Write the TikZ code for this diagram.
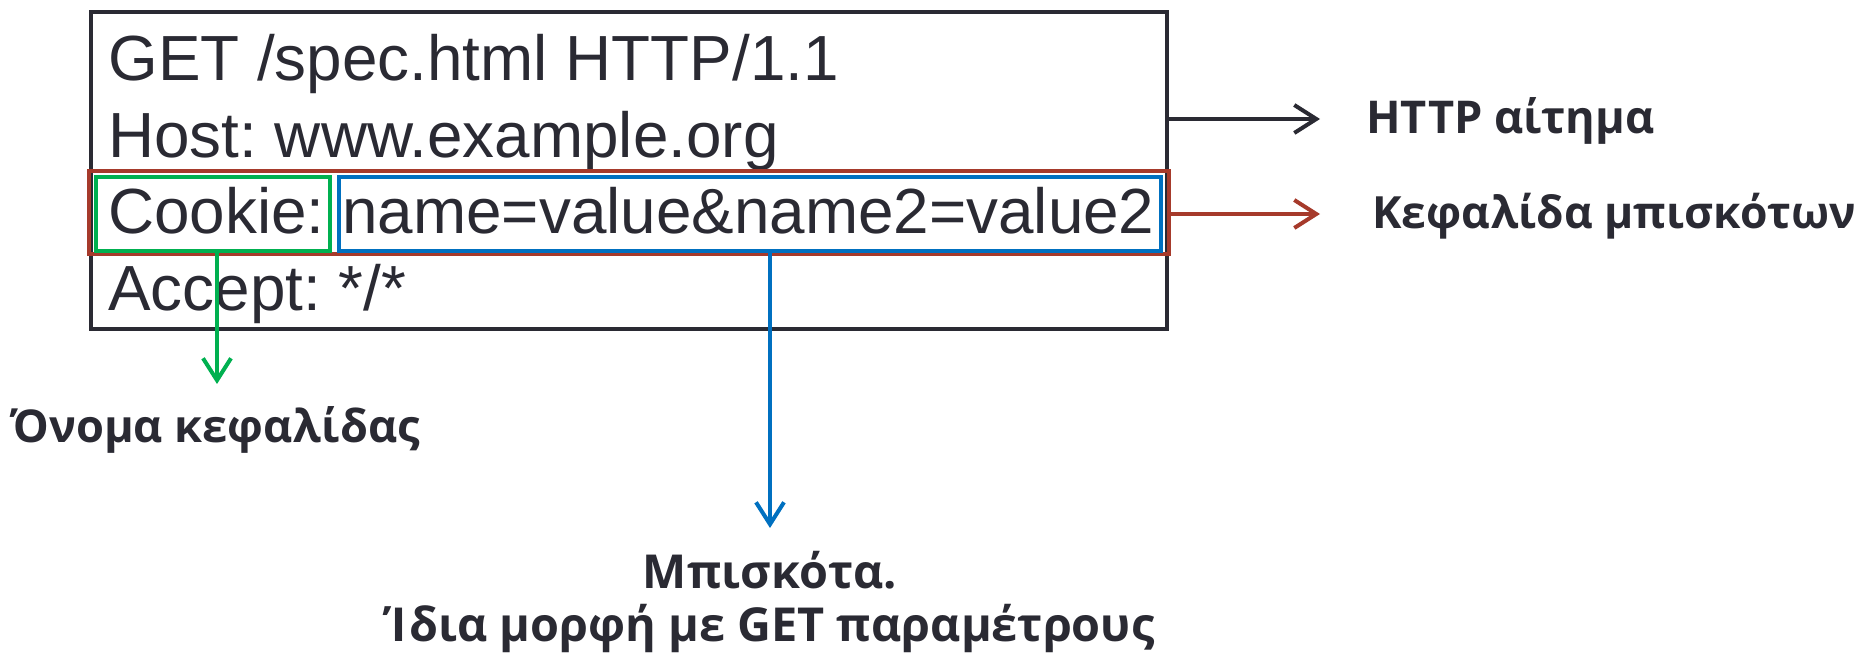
\documentclass[tikz,border=0pt]{standalone}
\usepackage{fontspec}
\setmainfont{Liberation Sans}
\newfontfamily\lblfont{Open Sans}
\usetikzlibrary{arrows.meta,fit}
\definecolor{ink}{HTML}{2A2A33}
\definecolor{cred}{HTML}{A63A2B}
\definecolor{cgreen}{HTML}{00B050}
\definecolor{cblue}{HTML}{0070C0}
\frenchspacing
\begin{document}
\begin{tikzpicture}[x=0.5pt,y=-0.5pt,
  reqtext/.style={anchor=base west, inner sep=0, text=ink, font=\fontsize{31.9}{38}\selectfont},
  lbl/.style={inner sep=0, text=ink, font=\lblfont\bfseries\fontsize{22.6}{27}\selectfont},
  lblbig/.style={inner sep=0, text=ink, font=\lblfont\bfseries\fontsize{23.4}{28}\selectfont},
  frame/.style={draw=#1, inner sep=0, line width=2pt},
  arr/.style={draw=#1, line width=2pt, -{Straight Barb[length=11pt,width=14pt,line width=2pt]}}
]
\useasboundingbox (0,0) rectangle (1862,656);
% request text
\node[reqtext] (l1) at (108,81)  {GET /spec.html HTTP/1.1};
\node[reqtext] (l2) at (108,158) {Host: www.example.org};
\node[reqtext] (l3) at (108,234) {Cookie: name=value\&name2=value2};
\node[reqtext] (l4) at (108,311) {Accept: */*};
% boxes
\node[frame=ink, fit={(91,12) (1167,329)}] (req) {};
\node[frame=cred, fit={(89,171) (1169,254)}] (hdr) {};
\node[frame=cgreen, line width=1.8pt, fit={(96,177) (330,251)}] (hname) {};
\node[frame=cblue, line width=1.8pt, fit={(339,177) (1161,251)}] (hval) {};
% labels
\node[lbl, anchor=base west] (lhttp) at (1366,134) {HTTP αίτημα};
\node[lbl, anchor=base west, font=\lblfont\bfseries\fontsize{22.2}{27}\selectfont] (lcookie) at (1372,229) {Κεφαλίδα μπισκότων};
\node[lbl, anchor=base west] (lname) at (11,443) {Όνομα κεφαλίδας};
\node[lblbig, anchor=base] (lval1) at (770,589) {Μπισκότα.};
\node[lblbig, anchor=base] (lval2) at (770,641) {Ίδια μορφή με GET παραμέτρους};
% arrow end points
\coordinate (ahttp) at (1320,119);
\coordinate (acookie) at (1320,214);
\coordinate (aname) at (217,384);
\coordinate (aval) at (770,528);
% connectors
\draw[arr=ink] (req.east |- ahttp) -- (ahttp);
\draw[arr=cred] (hdr.east |- acookie) -- (acookie);
\draw[arr=cgreen, line width=1.8pt] (hname.south -| aname) -- (aname);
\draw[arr=cblue, line width=1.8pt] (hval.south -| aval) -- (aval);
\end{tikzpicture}
\end{document}
